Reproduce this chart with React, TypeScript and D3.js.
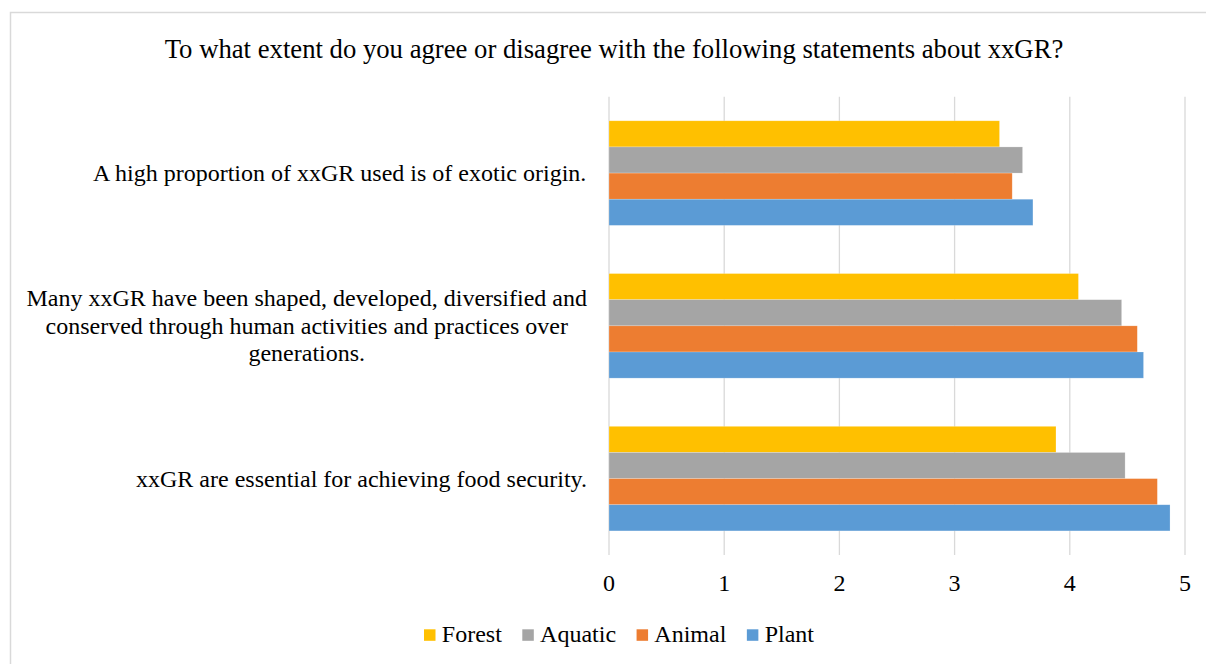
import React from "react";
import * as d3 from "d3";

// Survey statements (top to bottom), each split into its display lines
const categories: string[][] = [
  ["A high proportion of xxGR used is of exotic origin."],
  [
    "Many xxGR have been shaped, developed, diversified and",
    "conserved through human activities and practices over",
    "generations.",
  ],
  ["xxGR are essential for achieving food security."],
];

// Series, in the order they are stacked inside each group (top first)
const seriesNames = ["Forest", "Aquatic", "Animal", "Plant"];
const seriesColors = ["#FFC000", "#A5A5A5", "#ED7D31", "#5B9BD5"];

// Mean agreement score per statement
const forest = [3.39, 4.075, 3.88];
const aquatic = [3.59, 4.45, 4.48];
const animal = [3.5, 4.586, 4.76];
const plant = [3.68, 4.64, 4.87];

const xTicks = [0, 1, 2, 3, 4, 5];

const title =
  "To what extent do you agree or disagree with the following statements about xxGR?";

const W = 1206;
const H = 664;
const FONT = '"Liberation Serif", "Times New Roman", serif';

const plot = { left: 609, right: 1185, top: 96.7, bottom: 555 };

let measureCtx: CanvasRenderingContext2D | null = null;
function textWidth(s: string, size: number): number {
  if (!measureCtx) {
    const c = document.createElement("canvas");
    measureCtx = c.getContext("2d");
  }
  if (!measureCtx) return s.length * size * 0.45;
  measureCtx.font = `${size}px ${FONT}`;
  return measureCtx.measureText(s).width;
}

export default function App() {
  const values = [forest, aquatic, animal, plant];

  const x = d3.scaleLinear().domain([0, 5]).range([plot.left, plot.right]);

  const y0 = d3
    .scaleBand<number>()
    .domain(d3.range(categories.length))
    .range([plot.top, plot.bottom])
    .paddingInner(0.3154)
    .paddingOuter(0.1577);

  const y1 = d3
    .scaleBand<number>()
    .domain(d3.range(seriesNames.length))
    .range([0, y0.bandwidth()]);

  const labelSize = 24;
  const labelRight = 587;
  const lineH = 27.6;

  // Legend layout: square, gap, label, spacing
  const legendSize = 24;
  const sq = 11.5;
  const sqGap = 6.3;
  const itemGap = 20.5;
  const widths = seriesNames.map((n) => textWidth(n, legendSize));
  const totalLegend =
    widths.reduce((a, b) => a + b, 0) +
    seriesNames.length * (sq + sqGap) +
    (seriesNames.length - 1) * itemGap;
  const legendCenter = 619;
  let lx = legendCenter - totalLegend / 2;
  const legendItems = seriesNames.map((n, i) => {
    const item = { name: n, color: seriesColors[i], x: lx };
    lx += sq + sqGap + widths[i] + itemGap;
    return item;
  });
  const legendBaseline = 641.7;

  return (
    <svg
      width={W}
      height={H}
      style={{ position: "absolute", left: 0, top: 0, background: "#fff" }}
      fontFamily={FONT}
    >
      <rect x={0} y={0} width={W} height={H} fill="#fff" />
      {/* chart frame */}
      <rect
        x={10.5}
        y={12.5}
        width={W + 40}
        height={H + 40}
        fill="none"
        stroke="#d9d9d9"
        strokeWidth={1.5}
      />

      <text
        x={614}
        y={57.5}
        textAnchor="middle"
        fontSize={26.7}
        fill="#000"
      >
        {title}
      </text>

      {/* vertical gridlines */}
      {xTicks.map((t) => (
        <line
          key={t}
          x1={x(t)}
          x2={x(t)}
          y1={plot.top}
          y2={plot.bottom}
          stroke="#d9d9d9"
          strokeWidth={1.3}
        />
      ))}

      {/* bars */}
      {categories.map((_, ci) => (
        <g key={ci} transform={`translate(0,${y0(ci)})`}>
          {values.map((series, si) => (
            <rect
              key={si}
              x={x(0)}
              y={y1(si)}
              width={x(series[ci]) - x(0)}
              height={y1.bandwidth()}
              fill={seriesColors[si]}
              stroke="#fff"
              strokeOpacity={0.35}
              strokeWidth={0.6}
            />
          ))}
        </g>
      ))}

      {/* category labels: lines centred within a right-aligned block */}
      {categories.map((lines, ci) => {
        const cy = (y0(ci) as number) + y0.bandwidth() / 2;
        const maxW = Math.max(...lines.map((l) => textWidth(l, labelSize)));
        const cx = labelRight - maxW / 2;
        return (
          <text
            key={ci}
            textAnchor="middle"
            fontSize={labelSize}
            fill="#000"
          >
            {lines.map((l, li) => (
              <tspan
                key={li}
                x={cx}
                y={cy + 8 + (li - (lines.length - 1) / 2) * lineH}
              >
                {l}
              </tspan>
            ))}
          </text>
        );
      })}

      {/* x tick labels */}
      {xTicks.map((t) => (
        <text
          key={t}
          x={x(t)}
          y={591}
          textAnchor="middle"
          fontSize={24}
          fill="#000"
        >
          {t}
        </text>
      ))}

      {/* legend */}
      {legendItems.map((it) => (
        <g key={it.name}>
          <rect
            x={it.x}
            y={629.3}
            width={sq}
            height={sq}
            fill={it.color}
          />
          <text
            x={it.x + sq + sqGap}
            y={legendBaseline}
            fontSize={legendSize}
            fill="#000"
          >
            {it.name}
          </text>
        </g>
      ))}
    </svg>
  );
}
